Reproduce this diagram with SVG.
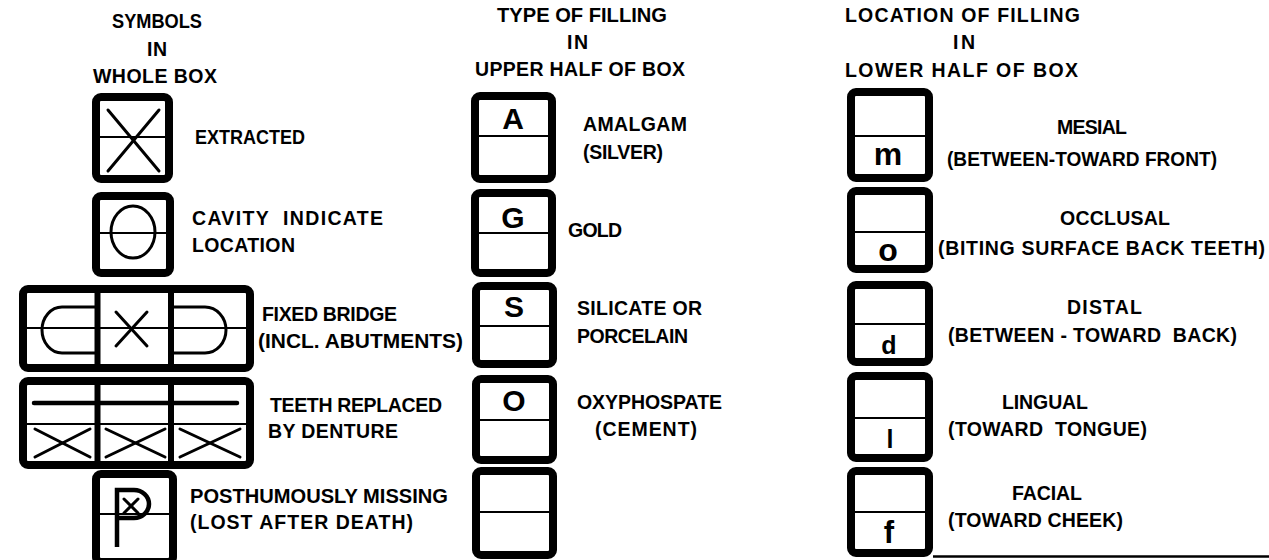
<svg xmlns="http://www.w3.org/2000/svg" width="1269" height="560" viewBox="0 0 1269 560">
<style>
text{font-family:"Liberation Sans",Arial,sans-serif;font-weight:bold;font-size:19.5px;fill:#000;white-space:pre}
.big{font-size:30px;text-anchor:middle}
.low{font-size:32px;text-anchor:middle}
.frame{fill:#fff;stroke:#000;stroke-width:8}
.mid{stroke:#000;stroke-width:2;fill:none}
.sym{stroke:#000;stroke-width:3;fill:none;stroke-linecap:round}
.div{stroke:#000;stroke-width:6}
</style>
<rect width="1269" height="560" fill="#fff"/>
<g id="headers">
<text x="112" y="28" textLength="90" lengthAdjust="spacingAndGlyphs">SYMBOLS</text>
<text x="147" y="56" textLength="20" lengthAdjust="spacing">IN</text>
<text x="93" y="83" textLength="124" lengthAdjust="spacing">WHOLE BOX</text>
<text x="497" y="22" textLength="170" lengthAdjust="spacingAndGlyphs">TYPE OF FILLING</text>
<text x="567" y="49" textLength="21" lengthAdjust="spacing">IN</text>
<text x="475" y="76" textLength="210" lengthAdjust="spacing">UPPER HALF OF BOX</text>
<text x="845" y="22" textLength="235" lengthAdjust="spacing">LOCATION OF FILLING</text>
<text x="953" y="49" textLength="22" lengthAdjust="spacing">IN</text>
<text x="845" y="77" textLength="233" lengthAdjust="spacing">LOWER HALF OF BOX</text>
</g>
<g id="connectors"></g>
<g id="extracted">
<rect class="frame" x="96" y="97" width="73" height="82" rx="5"/>
<line class="mid" x1="96" y1="137" x2="169" y2="137"/>
<line class="sym" x1="108" y1="110" x2="159" y2="171"/>
<line class="sym" x1="159" y1="110" x2="108" y2="171"/>
<text x="195" y="144" textLength="110" lengthAdjust="spacingAndGlyphs">EXTRACTED</text>
</g>
<g id="cavity">
<rect class="frame" x="96" y="196" width="74" height="77" rx="5"/>
<line class="mid" x1="96" y1="233" x2="170" y2="233"/>
<ellipse class="sym" cx="133" cy="232" rx="22" ry="26"/>
<text x="192" y="225" textLength="191" lengthAdjust="spacing">CAVITY  INDICATE</text>
<text x="192" y="252" textLength="103" lengthAdjust="spacing">LOCATION</text>
</g>
<g id="bridge">
<rect class="frame" x="23" y="289" width="227" height="79" rx="5"/>
<line class="mid" x1="23" y1="328" x2="250" y2="328"/>
<path class="sym" d="M97 307 H62 A20 23 0 0 0 62 353 H97"/>
<path class="sym" d="M171 307 H205 A21 23 0 0 1 205 353 H171"/>
<line class="sym" x1="116" y1="312" x2="147" y2="346"/>
<line class="sym" x1="147" y1="312" x2="116" y2="346"/>
<line class="div" x1="97.5" y1="289" x2="97.5" y2="370"/>
<line class="div" x1="171" y1="289" x2="171" y2="370"/>
<text x="262" y="321" textLength="135" lengthAdjust="spacing">FIXED BRIDGE</text>
<text x="258" y="348" textLength="205" lengthAdjust="spacingAndGlyphs">(INCL. ABUTMENTS)</text>
</g>
<g id="denture">
<rect class="frame" x="23" y="381" width="227" height="84" rx="5"/>
<line class="mid" x1="23" y1="424" x2="250" y2="424"/>
<line x1="34" y1="403" x2="237" y2="403" stroke="#000" stroke-width="4.5" stroke-linecap="round"/>
<line class="sym" x1="35" y1="429" x2="90" y2="457"/>
<line class="sym" x1="35" y1="457" x2="90" y2="429"/>
<line class="sym" x1="106" y1="429" x2="165" y2="457"/>
<line class="sym" x1="106" y1="457" x2="165" y2="429"/>
<line class="sym" x1="180" y1="429" x2="240" y2="457"/>
<line class="sym" x1="180" y1="457" x2="240" y2="429"/>
<line class="div" x1="97.5" y1="381" x2="97.5" y2="463"/>
<line class="div" x1="171" y1="381" x2="171" y2="463"/>
<text x="270" y="412" textLength="172" lengthAdjust="spacing">TEETH REPLACED</text>
<text x="268" y="438" textLength="130" lengthAdjust="spacing">BY DENTURE</text>
</g>
<g id="missing">
<rect class="frame" x="96" y="474" width="77" height="88" rx="5"/>
<line class="mid" x1="96" y1="514" x2="173" y2="514"/>
<path d="M117 547 V490 H134 A15 14 0 0 1 134 518 H117" fill="none" stroke="#000" stroke-width="4.5"/>
<line class="sym" x1="124" y1="499" x2="138" y2="513"/>
<line class="sym" x1="138" y1="499" x2="124" y2="513"/>
<text x="190" y="503" textLength="258" lengthAdjust="spacingAndGlyphs">POSTHUMOUSLY MISSING</text>
<text x="190" y="529" textLength="223" lengthAdjust="spacing">(LOST AFTER DEATH)</text>
</g>
<g id="amalgam">
<rect class="frame" x="475" y="96" width="77" height="83" rx="5"/>
<line class="mid" x1="475" y1="136" x2="552" y2="136"/>
<text class="big" x="513" y="129">A</text>
<text x="583" y="131" textLength="104" lengthAdjust="spacing">AMALGAM</text>
<text x="583" y="159" textLength="80" lengthAdjust="spacing">(SILVER)</text>
</g>
<g id="gold">
<rect class="frame" x="475" y="193" width="77" height="80" rx="5"/>
<line class="mid" x1="475" y1="233" x2="552" y2="233"/>
<text class="big" x="513" y="228">G</text>
<text x="568" y="237" textLength="54" lengthAdjust="spacing">GOLD</text>
</g>
<g id="silicate">
<rect class="frame" x="476" y="286" width="77" height="78" rx="5"/>
<line class="mid" x1="476" y1="326" x2="553" y2="326"/>
<text class="big" x="514" y="317">S</text>
<text x="577" y="315" textLength="125" lengthAdjust="spacing">SILICATE OR</text>
<text x="577" y="343" textLength="111" lengthAdjust="spacing">PORCELAIN</text>
</g>
<g id="oxyphospate">
<rect class="frame" x="476" y="379" width="77" height="81" rx="5"/>
<line class="mid" x1="476" y1="420" x2="553" y2="420"/>
<text class="big" x="514" y="411">O</text>
<text x="577" y="409" textLength="145" lengthAdjust="spacing">OXYPHOSPATE</text>
<text x="595" y="436" textLength="102" lengthAdjust="spacing">(CEMENT)</text>
</g>
<g id="empty">
<rect class="frame" x="476" y="471" width="77" height="84" rx="5"/>
<line class="mid" x1="476" y1="512" x2="553" y2="512"/>
</g>
<g id="mesial">
<rect class="frame" x="851" y="92" width="78" height="86" rx="5"/>
<line class="mid" x1="851" y1="136" x2="929" y2="136"/>
<text class="low" x="888" y="165">m</text>
<text x="1057" y="134" textLength="70" lengthAdjust="spacing">MESIAL</text>
<text x="947" y="166" textLength="270" lengthAdjust="spacingAndGlyphs">(BETWEEN-TOWARD FRONT)</text>
</g>
<g id="occlusal">
<rect class="frame" x="851" y="191" width="78" height="78" rx="5"/>
<line class="mid" x1="851" y1="232" x2="929" y2="232"/>
<text class="low" x="888" y="261">o</text>
<text x="1060" y="225" textLength="110" lengthAdjust="spacing">OCCLUSAL</text>
<text x="938" y="255" textLength="327" lengthAdjust="spacing">(BITING SURFACE BACK TEETH)</text>
</g>
<g id="distal">
<rect class="frame" x="851" y="285" width="78" height="77" rx="5"/>
<line class="mid" x1="851" y1="324" x2="929" y2="324"/>
<text class="low" x="889" y="354" style="font-size:25px">d</text>
<text x="1067" y="314" textLength="75" lengthAdjust="spacing">DISTAL</text>
<text x="948" y="342" textLength="289" lengthAdjust="spacing">(BETWEEN - TOWARD  BACK)</text>
</g>
<g id="lingual">
<rect class="frame" x="851" y="376" width="78" height="82" rx="5"/>
<line class="mid" x1="851" y1="418" x2="929" y2="418"/>
<text class="low" x="890" y="448" style="font-size:25px">l</text>
<text x="1002" y="409" textLength="86" lengthAdjust="spacing">LINGUAL</text>
<text x="948" y="436" textLength="199" lengthAdjust="spacing">(TOWARD  TONGUE)</text>
</g>
<g id="facial">
<rect class="frame" x="851" y="471" width="78" height="82" rx="5"/>
<line class="mid" x1="851" y1="512" x2="929" y2="512"/>
<text class="low" x="889" y="543" style="font-size:31px">f</text>
<text x="1012" y="500" textLength="70" lengthAdjust="spacing">FACIAL</text>
<text x="948" y="527" textLength="175" lengthAdjust="spacing">(TOWARD CHEEK)</text>
</g>
<line x1="933" y1="556.5" x2="1269" y2="556.5" stroke="#000" stroke-width="2.5"/>
</svg>
